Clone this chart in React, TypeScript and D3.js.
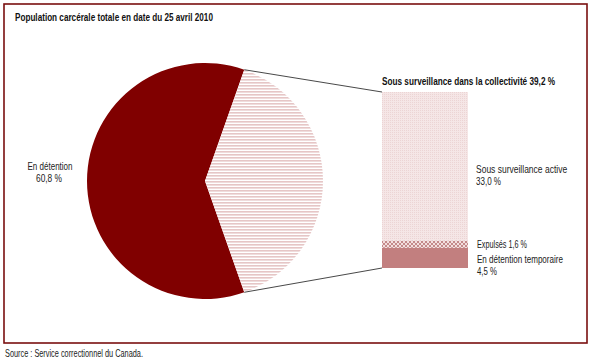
import React, { useLayoutEffect, useRef, useState } from "react";
import * as d3 from "d3";

const title = "Population carcérale totale en date du 25 avril 2010";
const source = "Source : Service correctionnel du Canada.";
const pieLabels = ["Sous surveillance dans la collectivité", "En détention"];
const pieValues = [39.2, 60.8];
const barLabels = ["En détention temporaire", "Expulsés", "Sous surveillance active"];
const barValues = [4.5, 1.6, 33.0];

const fmt = (v: number) => v.toFixed(1).replace(".", ",") + " %";

const font = "'Liberation Sans', Arial, sans-serif";

function T(props: {
  x: number;
  y: number;
  len: number;
  bold?: boolean;
  anchor?: string;
  size?: number;
  children: string;
}) {
  const ref = useRef<SVGTextElement>(null);
  const [sx, setSx] = useState(0.7);
  useLayoutEffect(() => {
    if (ref.current) {
      const w = ref.current.getComputedTextLength();
      if (w > 0) setSx(props.len / w);
    }
  }, [props.len, props.children]);
  return (
    <g transform={`translate(${props.x},${props.y}) scale(${sx},1)`}>
      <text
        ref={ref}
        x={0}
        y={0}
        fontFamily={font}
        fontWeight={props.bold ? "bold" : "normal"}
        fontSize={props.size ?? 10.5}
        textAnchor={props.anchor ?? "start"}
        fill={props.bold ? "#111" : "#222"}
      >
        {props.children}
      </text>
    </g>
  );
}

export default function App() {
  const W = 593, H = 364;
  const cx = 205, cy = 181, r = 118;

  const lightAngle = (2 * Math.PI * pieValues[0]) / d3.sum(pieValues);
  const pie = d3
    .pie<number>()
    .sort(null)
    .value((d) => d)
    .startAngle(Math.PI / 2 - lightAngle / 2)
    .endAngle(Math.PI / 2 - lightAngle / 2 + 2 * Math.PI);
  const arcs = pie(pieValues);
  const arcGen = d3.arc<d3.PieArcDatum<number>>().innerRadius(0).outerRadius(r);

  const pt = (a: number) => [cx + r * Math.sin(a), cy - r * Math.cos(a)];
  const pTop = pt(arcs[0].startAngle);
  const pBot = pt(arcs[0].endAngle);

  const barX = 382, barW = 86;
  const total = d3.sum(barValues);
  const y = d3.scaleLinear().domain([0, total]).range([268, 92]);
  let acc = 0;
  const segs = barValues.map((v, i) => {
    const s = { i, y0: acc, y1: acc + v, v };
    acc += v;
    return s;
  });
  const fills = ["#c27f7f", "url(#cross)", "url(#dots)"];

  return (
    <svg width={W} height={H} style={{ display: "block", position: "absolute", left: 0, top: 0 }}>
      <defs>
        <pattern id="stripes" width="4" height="3" patternUnits="userSpaceOnUse">
          <rect width="4" height="3" fill="#ffffff" />
          <rect width="4" height="1.6" fill="#e6c6c6" />
        </pattern>
        <pattern id="dots" width="2" height="2" patternUnits="userSpaceOnUse">
          <rect width="2" height="2" fill="#f5e6e6" />
          <rect width="1" height="1" fill="#ecd4d4" />
        </pattern>
        <pattern id="cross" width="4" height="4" patternUnits="userSpaceOnUse">
          <rect width="4" height="4" fill="#f3dede" />
          <path d="M0,0 L4,4 M4,0 L0,4" stroke="#c48a8a" strokeWidth="1" />
        </pattern>
      </defs>
      <rect x={0} y={0} width={W} height={H} fill="#ffffff" />
      <rect x={4} y={4} width={583} height={339} fill="#ffffff" stroke="#7a1010" strokeWidth={1.6} />

      <T x={15} y={21} len={198} bold size={11}>{title}</T>

      <g transform={`translate(${cx},${cy})`}>
        <path d={arcGen(arcs[1]) || ""} fill="#800000" />
        <path d={arcGen(arcs[0]) || ""} fill="url(#stripes)" />
      </g>

      <line x1={pTop[0]} y1={pTop[1]} x2={barX} y2={y(total)} stroke="#333" strokeWidth={0.9} />
      <line x1={pBot[0]} y1={pBot[1]} x2={barX} y2={y(0)} stroke="#333" strokeWidth={0.9} />

      {segs.map((s) => (
        <rect key={s.i} x={barX} y={y(s.y1)} width={barW} height={y(s.y0) - y(s.y1)} fill={fills[s.i]} />
      ))}

      <T x={barX} y={85} len={173} bold size={11}>{pieLabels[0] + " " + fmt(pieValues[0])}</T>

      <T x={50} y={170} len={45} anchor="middle">{pieLabels[1]}</T>
      <T x={49} y={182} len={26} anchor="middle">{fmt(pieValues[1])}</T>

      <T x={476} y={173} len={91}>{barLabels[2]}</T>
      <T x={476} y={185} len={25}>{fmt(barValues[2])}</T>
      <T x={477} y={248} len={50}>{barLabels[1] + " " + fmt(barValues[1])}</T>
      <T x={477} y={263} len={86}>{barLabels[0]}</T>
      <T x={477} y={275} len={20}>{fmt(barValues[0])}</T>

      <T x={5} y={357} len={138}>{source}</T>
    </svg>
  );
}
